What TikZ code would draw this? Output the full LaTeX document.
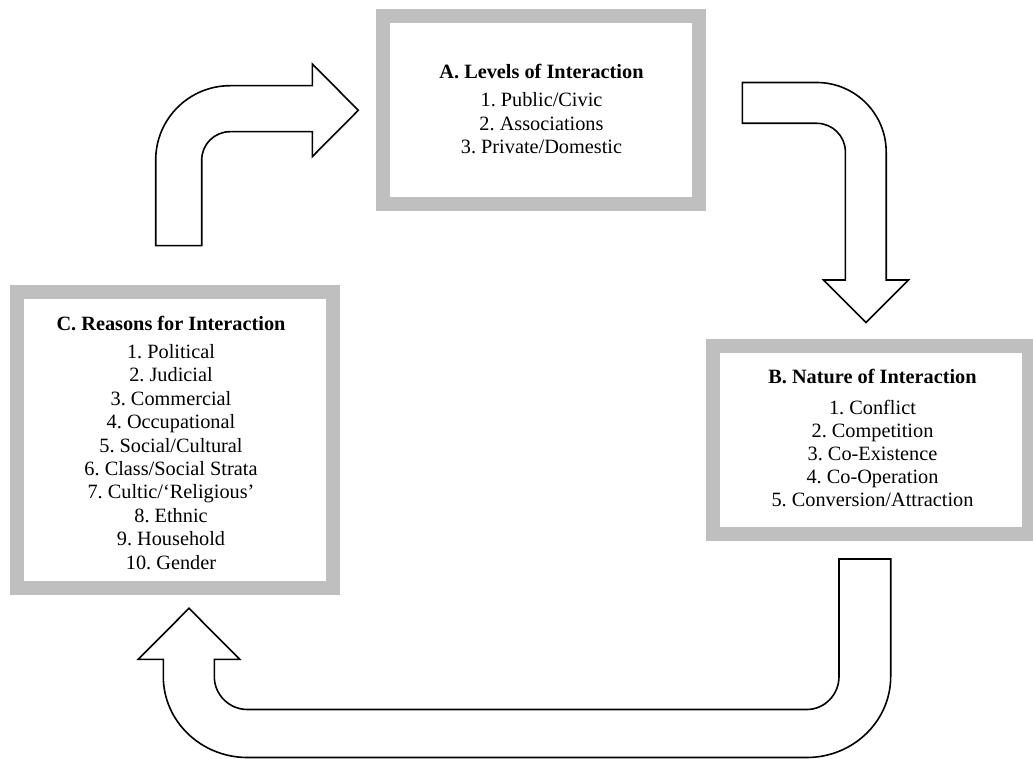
\documentclass[tikz,border=0pt]{standalone}
\usepackage{fontspec}
\setmainfont{Liberation Serif}
\definecolor{boxgray}{HTML}{BFBFBF}
\frenchspacing
\begin{document}
\begin{tikzpicture}[x=1pt,y=-1pt,
  framebox/.style={draw=boxgray,fill=white,line width=14pt,inner sep=0pt,minimum width=316pt},
  blockarrow/.style={draw=black,fill=white,line width=1.6pt,line join=miter},
  ttl/.style={anchor=base,inner sep=0pt,font=\fontsize{20.3}{23.3}\selectfont\bfseries\frenchspacing},
  itm/.style={anchor=base,inner sep=0pt,font=\fontsize{20.3}{23.3}\selectfont\frenchspacing}]
\useasboundingbox (0,0) rectangle (1033,759);

% frames
\node[framebox,minimum height=188pt] (A) at (541.1,109.8) {};
\node[framebox,minimum height=188pt] (B) at (871.4,439.9) {};
\node[framebox,minimum height=296pt] (C) at (174.9,439.6) {};

% block arrows
\draw[blockarrow] (155.7,245.7) -- (155.7,160) arc[start angle=180,end angle=270,radius=74.3]
  -- (312.3,85.7) -- (312.3,64) -- (358.3,110.3) -- (312.3,156.6) -- (312.3,131.7)
  -- (230,131.7) arc[start angle=270,end angle=180,radius=28.3] -- (201.7,245.7) -- cycle;

\draw[blockarrow] (742.3,82.5) -- (816.7,82.5) arc[start angle=270,end angle=360,radius=69.5]
  -- (886.2,280) -- (908.5,280) -- (866,322.5) -- (823.5,280) -- (845.4,280)
  -- (845.4,152) arc[start angle=0,end angle=-90,radius=28.7] -- (742.3,123.3) -- cycle;

\draw[blockarrow] (890.7,559) -- (890.7,676.5) arc[start angle=0,end angle=90,x radius=84,y radius=81]
  -- (247.5,757.5) arc[start angle=90,end angle=180,x radius=84.2,y radius=81]
  -- (163.3,659.3) -- (138.3,659.3) -- (189,608.3) -- (239.7,659.3) -- (214.3,659.3)
  -- (214.3,676.5) arc[start angle=180,end angle=90,x radius=33.2,y radius=33]
  -- (806.7,709.5) arc[start angle=90,end angle=0,x radius=32.3,y radius=33] -- (839,559) -- cycle;

% texts A
\node[ttl] (At) at (541.5,78.5) {A. Levels of Interaction};
\foreach \t [count=\i] in {1. Public/Civic,2. Associations,3. Private/Domestic}
  \node[itm] (A\i) at (541.5,{107+23.3*(\i-1)}) {\t};

% texts B
\node[ttl] (Bt) at (872.5,383.5) {B. Nature of Interaction};
\foreach \t [count=\i] in {1. Conflict,2. Competition,3. Co-Existence,4. Co-Operation,5. Conversion/Attraction}
  \node[itm] (B\i) at (872.5,{414.3+23.1*(\i-1)}) {\t};

% texts C
\node[ttl] (Ct) at (171,330) {C. Reasons for Interaction};
\foreach \t [count=\i] in {1. Political,2. Judicial,3. Commercial,4. Occupational,5. Social/Cultural,6. Class/Social Strata,7. Cultic/‘Religious’,8. Ethnic,9. Household,10. Gender}
  \node[itm] (C\i) at (171,{358.3+23.44*(\i-1)}) {\t};
\end{tikzpicture}
\end{document}
